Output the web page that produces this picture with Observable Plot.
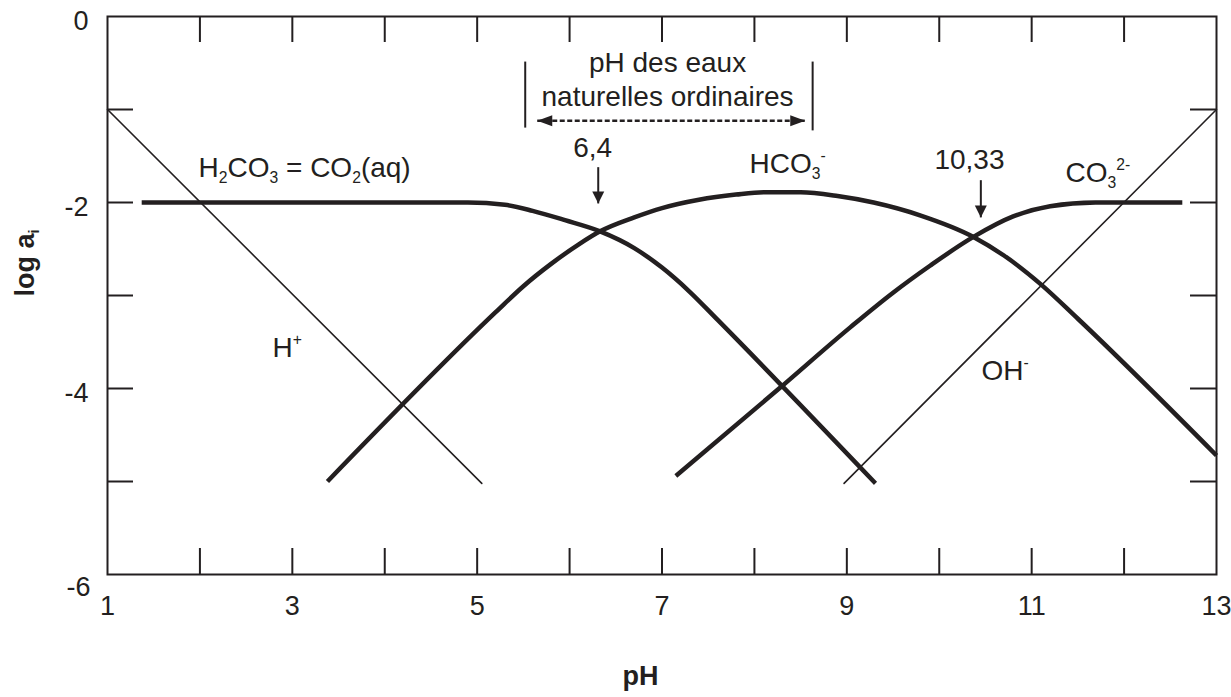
<!DOCTYPE html>
<html>
<head>
<meta charset="utf-8">
<script src="https://cdn.jsdelivr.net/npm/d3@7"></script>
<script src="https://cdn.jsdelivr.net/npm/@observablehq/plot@0.6"></script>
<style>
  html, body { margin: 0; padding: 0; background: #fff; }
  #chart svg { display: block; }
</style>
</head>
<body>
<div id="chart"></div>
<script>
// ---------------- data ----------------
const xTickValues = [2, 3, 4, 5, 6, 7, 8, 9, 10, 11, 12];
const yTickValues = [-1, -2, -3, -4, -5];
const xTickLabels = [1, 3, 5, 7, 9, 11, 13];
const yTickLabels = [0, -2, -4, -6];

// H2CO3 = CO2(aq)
const h2co3_pH  = [1.37, 4.9, 5.3, 5.6, 5.95, 6.33, 6.7, 7.0, 7.3, 7.6, 9.31];
const h2co3_log = [-2.0, -2.0, -2.025, -2.09, -2.19, -2.31, -2.49, -2.7, -2.96, -3.26, -5.02];
// HCO3-
const hco3_pH  = [3.38, 5.2, 5.5, 5.8, 6.1, 6.33, 6.7, 7.0, 7.4, 7.8, 8.1, 8.5, 8.9, 9.29, 9.8, 10.37, 10.7, 11.1, 11.5, 13];
const hco3_log = [-5.0, -3.18, -2.9, -2.66, -2.45, -2.31, -2.16, -2.06, -1.97, -1.915, -1.89, -1.89, -1.93, -2.0, -2.14, -2.37, -2.57, -2.88, -3.25, -4.72];
// CO3 2-
const co3_pH  = [7.15, 8.28, 9.04, 9.5, 9.9, 10.37, 10.8, 11.2, 11.69, 12.63];
const co3_log = [-4.94, -3.99, -3.34, -2.97, -2.68, -2.37, -2.15, -2.04, -2.0, -2.0];
// H+ and OH-
const h_pH   = [1, 5.05];
const h_log  = [-1, -5.02];
const oh_pH  = [8.97, 13];
const oh_log = [-5.02, -1];

// species labels
const speciesText = ["H_{2}CO_{3} = CO_{2}(aq)", "HCO_{3}^{-}", "CO_{3}^{2-}", "H^{+}", "OH^{-}"];
const speciesX    = [1.985, 7.947, 11.366, 2.785, 10.457];
const speciesY    = [-1.634, -1.591, -1.688, -3.57, -3.817];

// pK values and their arrows
const pkText     = ["6,4", "10,33"];
const pkTextX    = [6.25, 10.327];
const pkTextY    = [-1.419, -1.538];
const pkArrowX   = [6.31, 10.45];
const pkArrowTop = [-1.62, -1.76];
const pkArrowTip = [-2.01, -2.16];

// natural waters pH range
const rangeText       = "pH des eaux\nnaturelles ordinaires";
const rangeTextX      = 7.06;
const rangeTextY      = -0.957;
const rangeBarX       = [5.52, 8.63];
const rangeBarTop     = [-0.49, -0.49];
const rangeBarBottom  = [-1.2, -1.23];
const rangeArrowFrom  = 5.65;
const rangeArrowTo    = 8.55;
const rangeArrowY     = -1.12;

const xTitle = "pH";
const yTitle = "log a_{i}";

// ---------------- construction ----------------
const ink = "#231f20";
const W = 1231, H = 697;
const mL = 107, mR = 15, mT = 16, mB = 123;
const frameW = W - mL - mR, frameH = H - mT - mB;
const tickLen = 26;

const rows = (name, xs, ys) => xs.map((x, i) => ({species: name, pH: x, log: ys[i]}));
const thickRows = [
  ...rows("H2CO3", h2co3_pH, h2co3_log),
  ...rows("HCO3", hco3_pH, hco3_log),
  ...rows("CO3", co3_pH, co3_log)
];
const thinRows = [...rows("H", h_pH, h_log), ...rows("OH", oh_pH, oh_log)];

const speciesRows = speciesText.map((t, i) => ({t, x: speciesX[i], y: speciesY[i]}));
const pkRows = pkText.map((t, i) => ({t, x: pkTextX[i], y: pkTextY[i]}));
const pkArrows = pkArrowX.map((x, i) => ({x, top: pkArrowTop[i], tip: pkArrowTip[i]}));
const rangeBars = rangeBarX.map((x, i) => ({x, y1: rangeBarTop[i], y2: rangeBarBottom[i]}));
const rangeArrow = [{x1: rangeArrowFrom, x2: rangeArrowTo, y: rangeArrowY}];

// filled arrowheads whose tip is at the origin
const headDown  = {draw(c) { c.moveTo(0, 0); c.lineTo(-6, -12); c.lineTo(6, -12); c.closePath(); }};
const headLeft  = {draw(c) { c.moveTo(0, 0); c.lineTo(15, -5.5); c.lineTo(15, 5.5); c.closePath(); }};
const headRight = {draw(c) { c.moveTo(0, 0); c.lineTo(-15, -5.5); c.lineTo(-15, 5.5); c.closePath(); }};

const chart = Plot.plot({
  width: W, height: H,
  marginLeft: mL, marginRight: mR, marginTop: mT, marginBottom: mB,
  x: {domain: [1, 13], axis: null},
  y: {domain: [-6, 0], axis: null},
  style: {fontFamily: "'Liberation Sans', Arial, Helvetica, sans-serif", background: "#fff", color: ink},
  marks: [
    // thin H+ / OH- lines
    Plot.line(thinRows, {x: "pH", y: "log", z: "species", stroke: ink, strokeWidth: 1.6}),
    // thick carbonate species curves
    Plot.line(thickRows, {x: "pH", y: "log", z: "species", curve: "monotone-x",
      stroke: ink, strokeWidth: 4.5, strokeLinecap: "butt", strokeLinejoin: "round"}),
    // inward ticks
    Plot.tickX(xTickValues, {x: d => d, insetTop: frameH - tickLen, stroke: ink, strokeWidth: 2}),
    Plot.tickX(xTickValues, {x: d => d, insetBottom: frameH - tickLen, stroke: ink, strokeWidth: 2}),
    Plot.tickY(yTickValues, {y: d => d, insetRight: frameW - tickLen, stroke: ink, strokeWidth: 2}),
    Plot.tickY(yTickValues, {y: d => d, insetLeft: frameW - tickLen, stroke: ink, strokeWidth: 2}),
    Plot.frame({stroke: ink, strokeWidth: 2}),
    // tick labels
    Plot.text(xTickLabels, {x: d => d, text: d => String(d), frameAnchor: "bottom", dy: 40,
      fontSize: 27, fill: ink}),
    Plot.text(yTickLabels.filter(d => d > -6), {y: d => d, text: d => String(d), frameAnchor: "left",
      textAnchor: "end", dx: -19, dy: 5, fontSize: 27, fill: ink}),
    Plot.text(yTickLabels.filter(d => d === -6), {y: d => d, text: d => String(d), frameAnchor: "left",
      textAnchor: "end", dx: -17, dy: 13, fontSize: 27, fill: ink}),
    // axis titles
    Plot.text([xTitle], {text: d => d, frameAnchor: "bottom", dx: -21.5, dy: 110,
      fontSize: 27, fontWeight: "bold", fill: ink}),
    Plot.text([yTitle], {text: d => d, frameAnchor: "left", rotate: -90, dx: -82.6, dy: 1,
      fontSize: 27, fontWeight: "bold", fill: ink}),
    // natural waters range
    Plot.ruleX(rangeBars, {x: "x", y1: "y1", y2: "y2", stroke: ink, strokeWidth: 2}),
    Plot.link(rangeArrow, {x1: "x1", x2: "x2", y1: "y", y2: "y", stroke: ink, strokeWidth: 2.5,
      strokeDasharray: "5,2.5"}),
    Plot.dot(rangeArrow, {x: "x1", y: "y", symbol: headLeft, fill: ink, stroke: "none", r: 5}),
    Plot.dot(rangeArrow, {x: "x2", y: "y", symbol: headRight, fill: ink, stroke: "none", r: 5}),
    Plot.text([rangeText], {text: d => d, x: () => rangeTextX, y: () => rangeTextY,
      lineAnchor: "bottom", lineHeight: 1.18, fontSize: 28, fill: ink}),
    // pK arrows and values
    Plot.link(pkArrows, {x1: "x", x2: "x", y1: "top", y2: "tip", stroke: ink, strokeWidth: 2}),
    Plot.dot(pkArrows, {x: "x", y: "tip", symbol: headDown, fill: ink, stroke: "none", r: 5}),
    Plot.text(pkRows, {x: "x", y: "y", text: "t", fontSize: 28, fill: ink}),
    // species labels
    Plot.text(speciesRows, {x: "x", y: "y", text: "t", textAnchor: "start", fontSize: 28, fill: ink})
  ]
});

document.getElementById("chart").appendChild(chart);

// turn _{..} / ^{..} markup into real sub/superscript tspans
const NS = "http://www.w3.org/2000/svg";
chart.querySelectorAll("text").forEach(t => {
  const s = t.textContent;
  if (!/[_^]\{/.test(s)) return;
  const holder = t.closest("[font-size]");
  const fs = holder ? parseFloat(holder.getAttribute("font-size")) : 28;
  const parts = s.split(/([_^]\{[^}]*\})/).filter(p => p.length);
  while (t.firstChild) t.removeChild(t.firstChild);
  let cur = 0;
  for (const p of parts) {
    const sp = document.createElementNS(NS, "tspan");
    let off = 0, txt = p, small = false;
    if (p[0] === "_" && p[1] === "{") { off = 0.21 * fs; txt = p.slice(2, -1); small = true; }
    else if (p[0] === "^" && p[1] === "{") { off = -0.45 * fs; txt = p.slice(2, -1); small = true; }
    if (off !== cur) sp.setAttribute("dy", (off - cur).toFixed(2));
    cur = off;
    if (small) sp.setAttribute("font-size", (0.56 * fs).toFixed(1));
    sp.textContent = txt;
    t.appendChild(sp);
  }
});
</script>
</body>
</html>
